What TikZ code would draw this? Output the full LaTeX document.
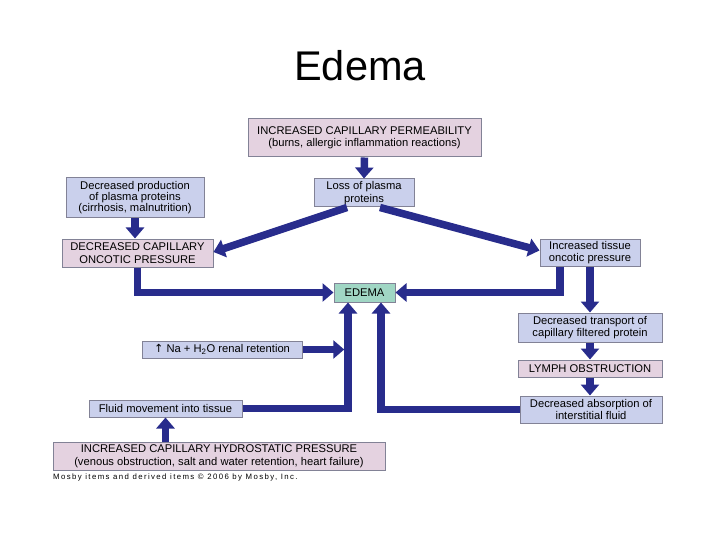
\documentclass[tikz,border=0pt]{standalone}
\usepackage{fontspec}
\setmainfont{Liberation Sans}
\newfontfamily\upsymfont{DejaVu Sans}
\usetikzlibrary{arrows.meta}
\definecolor{pinkfill}{RGB}{228,210,224}
\definecolor{bluefill}{RGB}{202,208,236}
\definecolor{greenfill}{RGB}{160,214,196}
\definecolor{boxline}{RGB}{130,130,150}
\definecolor{arrowblue}{RGB}{40,44,140}
\begin{document}
\begin{tikzpicture}[
			x=1pt, y=-1pt,
			box/.style={draw=boxline, line width=1pt, align=center, inner sep=0pt,
					font=\fontsize{11.2}{12.5}\selectfont},
			pinkbox/.style={box, fill=pinkfill},
			bluebox/.style={box, fill=bluefill},
			edemabox/.style={box, fill=greenfill},
			flow/.style={draw=arrowblue, line width=7.5pt, -{Triangle[width=18pt,length=11pt]}}
		]
		\useasboundingbox (0,0) rectangle (720,540);
		\node (title) at (360,66) {\fontsize{41.5}{48}\selectfont Edema};
		\node[pinkbox, minimum width=233pt, minimum height=38pt] (permeability) at (364.5,138)
			{INCREASED CAPILLARY PERMEABILITY\\(burns, allergic inflammation reactions)};
		\node[bluebox, minimum width=100pt, minimum height=28pt] (loss) at (364,193)
			{Loss of plasma\\proteins};
		\node[bluebox, minimum width=138pt, minimum height=40pt, font=\fontsize{11.2}{11}\selectfont] (production) at (135,198)
			{Decreased production\\of plasma proteins\\(cirrhosis, malnutrition)};
		\node[pinkbox, minimum width=151pt, minimum height=28pt] (caponcotic) at (137.5,253)
			{DECREASED CAPILLARY\\ONCOTIC PRESSURE};
		\node[bluebox, minimum width=100pt, minimum height=27pt] (tissue) at (590,252.5)
			{Increased tissue\\oncotic pressure};
		\node[edemabox, minimum width=61pt, minimum height=19pt] (edema) at (364.5,292.5)
			{EDEMA};
		\node[bluebox, minimum width=144pt, minimum height=29pt] (transport) at (590,327.5)
			{Decreased transport of\\capillary filtered protein};
		\node[pinkbox, minimum width=144pt, minimum height=17pt] (lymph) at (590,368.5)
			{LYMPH OBSTRUCTION};
		\node[bluebox, minimum width=142pt, minimum height=27pt] (absorption) at (591,409.5)
			{Decreased absorption of\\interstitial fluid};
		\node[bluebox, minimum width=160pt, minimum height=17pt] (renal) at (222,349.5)
			{{\upsymfont ↑} Na + H\textsubscript{2}O renal retention};
		\node[bluebox, minimum width=153pt, minimum height=17pt] (fluid) at (165.5,408.5)
			{Fluid movement into tissue};
		\node[pinkbox, minimum width=332pt, minimum height=28pt] (hydrostatic) at (219,456)
			{INCREASED CAPILLARY HYDROSTATIC PRESSURE\\(venous obstruction, salt and water retention, heart failure)};
		\node[anchor=west, inner sep=0pt, font=\fontsize{7.8}{9}\selectfont\addfontfeatures{LetterSpace=18}] (credit) at (53,477)
			{Mosby items and derived items © 2006 by Mosby, Inc.};
		\coordinate (leftleg) at ([xshift=-16.5pt]edema.south);
		\coordinate (rightleg) at ([xshift=16.5pt]edema.south);
		\draw[flow] (permeability.south) -- (loss.north);
		\draw[flow] ([xshift=-17pt]loss.south) -- ([yshift=1pt]caponcotic.east);
		\draw[flow] ([xshift=16pt]loss.south) -- ([yshift=2pt]tissue.west);
		\draw[flow] (production.south) -- (production.south |- caponcotic.north);
		\draw[flow] (caponcotic.south) |- (edema.west);
		\draw[flow] ([xshift=-30pt]tissue.south) |- (edema.east);
		\draw[flow] (tissue.south) -- (transport.north);
		\draw[flow] (transport.south) -- (lymph.north);
		\draw[flow] (lymph.south) -- (absorption.north -| lymph.south);
		\draw[flow] (absorption.west) -| (rightleg);
		\draw[flow] (fluid.east) -| (leftleg);
		\draw[flow] (renal.east) -- ([xshift=-3.75pt]renal.east -| leftleg);
		\draw[flow] (fluid.south |- hydrostatic.north) -- (fluid.south);
	\end{tikzpicture}
\end{document}
